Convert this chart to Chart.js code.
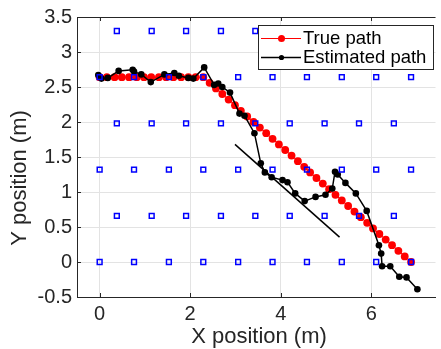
<!DOCTYPE html>
<html>
<head>
<meta charset="utf-8">
<script src="https://cdn.jsdelivr.net/npm/chart.js@4"></script>
<style>
  html, body { margin: 0; padding: 0; background: #fff; overflow: hidden; }
  canvas { display: block; }
</style>
</head>
<body>
<canvas id="pathChart" width="441" height="349"></canvas>
<script>
// anchor grid (blue squares)
const anchorRowsY = [3.3, 2.64, 1.98, 1.32, 0.66, 0];
const anchorColsOdd = [0.38, 1.15, 1.91, 2.68, 3.44, 4.2, 4.97, 5.73, 6.5];
const anchorColsEven = [0, 0.76, 1.53, 2.29, 3.06, 3.82, 4.58, 5.35, 6.11, 6.88];

// true path (red)
const trueX = [0, 0.16, 0.33, 0.49, 0.65, 0.82, 0.98, 1.14, 1.31, 1.47, 1.63, 1.8, 1.96, 2.12, 2.29,
    2.43, 2.57, 2.71, 2.85, 2.99, 3.12, 3.26, 3.4, 3.54, 3.68, 3.82, 3.96, 4.1, 4.24, 4.38, 4.52,
    4.65, 4.79, 4.93, 5.07, 5.21, 5.35, 5.49, 5.63, 5.77, 5.91, 6.04, 6.18, 6.32, 6.46, 6.6, 6.74, 6.88];
const trueY = [2.64, 2.64, 2.64, 2.64, 2.64, 2.64, 2.64, 2.64, 2.64, 2.64, 2.64, 2.64, 2.64, 2.64, 2.64,
    2.56, 2.48, 2.4, 2.32, 2.24, 2.16, 2.08, 2.0, 1.92, 1.84, 1.76, 1.68, 1.6, 1.52, 1.44, 1.36,
    1.28, 1.2, 1.12, 1.04, 0.96, 0.88, 0.8, 0.72, 0.64, 0.56, 0.48, 0.4, 0.32, 0.24, 0.16, 0.08, 0];

// estimated path (black)
const estX = [-0.03, 0.04, 0.18, 0.42, 0.73, 0.76, 0.92, 1.13, 1.43, 1.65, 1.75, 1.96, 2.07, 2.31,
    2.53, 2.62, 2.71, 2.88, 3.09, 3.2, 3.42, 3.56, 3.65, 3.8, 4.04, 4.15, 4.32, 4.53, 4.77, 4.99,
    5.14, 5.2, 5.26, 5.43, 5.66, 5.9, 6.17, 6.22, 6.24, 6.42, 6.62, 6.78, 7.02];
const estY = [2.67, 2.62, 2.63, 2.73, 2.745, 2.72, 2.68, 2.57, 2.68, 2.7, 2.66, 2.63, 2.62, 2.78,
    2.53, 2.55, 2.5, 2.42, 2.12, 2.09, 1.84, 1.41, 1.28, 1.21, 1.17, 1.14, 0.98, 0.87, 0.93, 0.96,
    1.05, 1.29, 1.25, 1.13, 0.98, 0.73, 0.24, 0.12, -0.06, -0.06, -0.21, -0.22, -0.39];

// fitted straight line
const lineX = [2.99, 5.3];
const lineY = [1.68, 0.356];

const xTicks = [0, 2, 4, 6];
const yTicks = [-0.5, 0, 0.5, 1, 1.5, 2, 2.5, 3, 3.5];
const legendLabels = ['True path', 'Estimated path'];
const xTitle = 'X position (m)';
const yTitle = 'Y position (m)';

const textColor = '#262626';
const fontFam = '"Liberation Sans", Arial, Helvetica, sans-serif';

function toPoints(xs, ys) {
    return xs.map((x, i) => ({ x: x, y: ys[i] }));
}

const anchorPoints = [];
anchorRowsY.forEach((y, r) => {
    const cols = r % 2 === 0 ? anchorColsOdd : anchorColsEven;
    cols.forEach(x => anchorPoints.push({ x: x, y: y }));
});

const matlabFrame = {
    id: 'matlabFrame',
    afterDraw(chart) {
        const ctx = chart.ctx;
        const a = chart.chartArea;
        const xs = chart.scales.x;
        const ys = chart.scales.y;
        ctx.save();
        ctx.strokeStyle = textColor;
        ctx.lineWidth = 1;
        ctx.beginPath();
        ctx.moveTo(a.left, a.top + 0.5);
        ctx.lineTo(a.right, a.top + 0.5);
        xTicks.forEach(v => {
            const px = Math.round(xs.getPixelForValue(v)) + 0.5;
            ctx.moveTo(px, a.bottom);
            ctx.lineTo(px, a.bottom - 4);
            ctx.moveTo(px, a.top);
            ctx.lineTo(px, a.top + 4);
        });
        yTicks.forEach(v => {
            const py = Math.round(ys.getPixelForValue(v)) + 0.5;
            ctx.moveTo(a.left, py);
            ctx.lineTo(a.left + 4, py);
        });
        ctx.stroke();

        // legend box
        const bx = 258.5, by = 25.5, bw = 175, bh = 44;
        ctx.fillStyle = '#fff';
        ctx.fillRect(bx, by, bw, bh);
        ctx.strokeStyle = textColor;
        ctx.strokeRect(bx, by, bw, bh);
        const rows = [
            { y: 38.5, color: '#ff0000', lw: 1, r: 3.5 },
            { y: 57.5, color: '#000000', lw: 1.5, r: 2.6 }
        ];
        ctx.font = '18.5px ' + fontFam;
        ctx.textBaseline = 'middle';
        rows.forEach((row, i) => {
            ctx.strokeStyle = row.color;
            ctx.lineWidth = row.lw;
            ctx.beginPath();
            ctx.moveTo(261, row.y);
            ctx.lineTo(301, row.y);
            ctx.stroke();
            ctx.fillStyle = row.color;
            ctx.beginPath();
            ctx.arc(281.5, row.y, row.r, 0, Math.PI * 2);
            ctx.fill();
            ctx.fillStyle = '#000';
            ctx.fillText(legendLabels[i], 303, row.y);
        });

        // axis titles
        ctx.fillStyle = textColor;
        ctx.font = '22px ' + fontFam;
        ctx.textAlign = 'center';
        ctx.textBaseline = 'middle';
        ctx.fillText(xTitle, 259, 337);
        ctx.translate(20, 178);
        ctx.rotate(-Math.PI / 2);
        ctx.fillText(yTitle, 0, 0);
        ctx.restore();
    }
};

new Chart(document.getElementById('pathChart'), {
    type: 'scatter',
    data: {
        datasets: [
            {
                label: 'anchors',
                data: anchorPoints,
                pointStyle: 'rect',
                pointRadius: 3.4,
                borderColor: '#0000ff',
                backgroundColor: 'rgba(255,255,255,0)',
                borderWidth: 1.5,
                showLine: false
            },
            {
                label: legendLabels[1],
                data: toPoints(estX, estY),
                showLine: true,
                borderColor: '#000',
                backgroundColor: '#000',
                borderWidth: 1.5,
                pointRadius: 3.3,
                pointBorderWidth: 0
            },
            {
                label: 'fit',
                data: toPoints(lineX, lineY),
                showLine: true,
                borderColor: '#000',
                borderWidth: 1.5,
                pointRadius: 0
            },
            {
                label: legendLabels[0],
                data: toPoints(trueX, trueY),
                showLine: true,
                borderColor: '#ff0000',
                backgroundColor: '#ff0000',
                borderWidth: 1,
                pointRadius: 3.9,
                pointBorderWidth: 0
            }
        ]
    },
    options: {
        responsive: false,
        devicePixelRatio: 1,
        animation: false,
        layout: { padding: { top: 16, right: 1, left: 0, bottom: 0 } },
        plugins: {
            legend: { display: false },
            tooltip: { enabled: false }
        },
        scales: {
            x: {
                type: 'linear',
                min: -0.5,
                max: 7.42,
                afterBuildTicks: axis => { axis.ticks = xTicks.map(v => ({ value: v })); },
                afterFit: axis => { axis.height = 52; },
                ticks: {
                    color: textColor,
                    font: { family: fontFam, size: 20 },
                    padding: 5,
                    maxRotation: 0,
                    callback: v => String(v)
                },
                grid: { color: '#e3e3e3', drawTicks: false },
                border: { color: textColor, width: 1 }
            },
            y: {
                type: 'linear',
                min: -0.5,
                max: 3.5,
                afterBuildTicks: axis => { axis.ticks = yTicks.map(v => ({ value: v })); },
                afterFit: axis => { axis.width = 77; },
                ticks: {
                    color: textColor,
                    font: { family: fontFam, size: 20 },
                    padding: 5,
                    callback: v => String(v)
                },
                grid: { color: '#e3e3e3', drawTicks: false },
                border: { color: textColor, width: 1 }
            }
        }
    },
    plugins: [matlabFrame]
});
</script>
</body>
</html>
